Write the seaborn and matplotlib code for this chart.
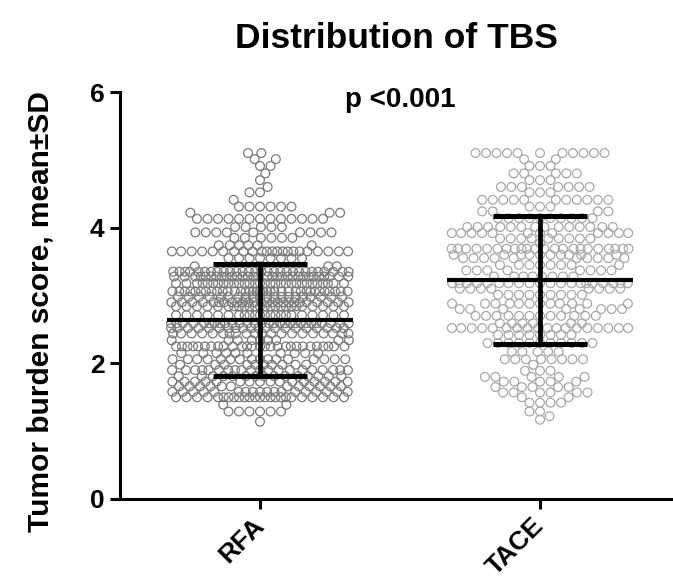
import numpy as np
import pandas as pd
import matplotlib
matplotlib.use('Agg')
import matplotlib.pyplot as plt
from matplotlib.transforms import ScaledTranslation
import seaborn as sns

# Groups and values (TBS level -> number of patients)
groups = ['RFA', 'TACE']
group_colors = ['#7a7a7a', '#a8a8a8']

rfa_levels = [5.10, 5.01, 4.91, 4.80, 4.70, 4.60, 4.52, 4.41, 4.31, 4.22,
              4.13, 4.01, 3.93, 3.85, 3.74, 3.65, 3.55, 3.43, 3.35, 3.28,
              3.18, 3.06, 2.98, 2.90, 2.84, 2.71, 2.59, 2.52, 2.44, 2.34,
              2.25, 2.15, 2.06, 1.98, 1.90, 1.81, 1.73, 1.66, 1.58, 1.50,
              1.39, 1.29, 1.14]
rfa_counts = [2, 2, 2, 1, 1, 1, 2, 1, 6, 3,
              13, 5, 9, 6, 6, 22, 8, 4, 28, 30,
              30, 35, 20, 25, 24, 22, 28, 20, 20, 9,
              27, 10, 16, 10, 20, 15, 16, 12, 18, 24,
              2, 6, 1]

tace_levels = [5.10, 5.01, 4.91, 4.80, 4.70, 4.60, 4.52, 4.41, 4.31, 4.24,
               4.14, 4.01, 3.92, 3.84, 3.77, 3.69, 3.60, 3.55, 3.45, 3.37,
               3.28, 3.18, 3.10, 3.01, 2.88, 2.80, 2.70, 2.59, 2.52, 2.42,
               2.30, 2.17, 2.06, 1.98, 1.89, 1.80, 1.73, 1.65, 1.57, 1.50,
               1.42, 1.29, 1.22, 1.17]
tace_counts = [11, 2, 3, 5, 3, 7, 3, 11, 3, 4,
               10, 14, 12, 9, 1, 22, 10, 10, 8, 8,
               8, 20, 8, 9, 12, 8, 12, 6, 18, 8,
               11, 5, 8, 1, 3, 5, 5, 5, 6, 2,
               4, 2, 1, 1]

# mean and SD as printed on the chart
group_means = [2.64, 3.23]
group_sds = [0.83, 0.94]

title = 'Distribution of TBS'
p_label = 'p <0.001'
y_label = 'Tumor burden score, mean\u00b1SD'
y_ticks = [0, 2, 4, 6]

# pixel scale of the axes (used only to lay out the swarm)
PX_PER_X = 280.0
PX_PER_Y = 67.83


# Prism-like beeswarm: push points sideways, squeeze them when a row is too wide
def swarm_offsets(values, d=10.5, half=89.0, vf=0.75):
    y = np.asarray(values, float) * PX_PER_Y / vf
    order = np.argsort(y, kind='stable')
    xs = np.zeros(len(y))
    done = np.zeros(len(y), bool)
    for k, i in enumerate(order):
        dist = d
        found = None
        while found is None and dist > 1.0:
            dy = y[done] - y[i]
            px = xs[done]
            near = np.abs(dy) < dist
            dyn, pxn = dy[near], px[near]
            if len(pxn) == 0:
                found = 0.0
                break
            dx = np.sqrt(dist ** 2 - dyn ** 2)
            sign = 1 if k % 2 else -1
            cands = np.concatenate([[0.0], pxn + sign * dx, pxn - sign * dx])
            cands = cands[np.abs(cands) <= half]
            cands = cands[np.argsort(np.abs(cands), kind='stable')]
            ok = (((cands[:, None] - pxn[None, :]) ** 2 + dyn[None, :] ** 2)
                  >= dist ** 2 - 1e-6).all(axis=1)
            if ok.any():
                found = cands[np.argmax(ok)]
            else:
                dist *= 0.88
        xs[i] = found if found is not None else 0.0
        done[i] = True
    return xs


frames = []
for gi, (g, levels, counts) in enumerate(zip(groups, [rfa_levels, tace_levels],
                                             [rfa_counts, tace_counts])):
    vals = np.repeat(levels, counts)
    offs = swarm_offsets(vals)
    frames.append(pd.DataFrame({'group': g, 'tbs': vals,
                                'x': gi + offs / PX_PER_X}))
df = pd.concat(frames, ignore_index=True)

sns.set_style('ticks')
plt.rcParams['font.family'] = ['Liberation Sans', 'DejaVu Sans']
plt.rcParams['font.weight'] = 'bold'
plt.rcParams['text.color'] = 'black'
plt.rcParams['axes.labelcolor'] = 'black'

fig = plt.figure(figsize=(6.73, 5.81), dpi=100)
ax = fig.add_axes([120 / 673, 82 / 581, 553 / 673, 407 / 581])

# Plot the points as open circles
for gi, g in enumerate(groups):
    sns.scatterplot(data=df[df['group'] == g], x='x', y='tbs', ax=ax,
                    marker='o', s=40, color=group_colors[gi],
                    facecolor='none', edgecolor=group_colors[gi],
                    linewidth=0.9, legend=False, zorder=2)
for coll in ax.collections:
    coll.set_facecolor('none')

# Mean line and SD whiskers
pos = np.arange(len(groups))
ax.hlines(group_means, pos - 93 / PX_PER_X, pos + 93 / PX_PER_X,
          colors='black', linewidth=3.0, zorder=3)
ax.errorbar(pos, group_means, yerr=group_sds, fmt='none', ecolor='black',
            elinewidth=3.4, capsize=34, capthick=3.6, zorder=3)

ax.set_xlim(-140 / PX_PER_X, 1 + 133 / PX_PER_X)
ax.set_ylim(0, 6)
ax.set_yticks(y_ticks)
ax.set_xticks(pos)
ax.set_xticklabels(groups, rotation=45, ha='right', rotation_mode='anchor')

ax.tick_params(axis='both', length=7, width=2.2, colors='black')
ax.tick_params(axis='x', pad=3, labelsize=19)
ax.tick_params(axis='y', pad=4, labelsize=19)
shift = ScaledTranslation(-8 / 100, 0, fig.dpi_scale_trans)
for lab in ax.get_xticklabels():
    lab.set_fontweight('bold')
    lab.set_transform(lab.get_transform() + shift)
for lab in ax.get_yticklabels():
    lab.set_fontweight('bold')

sns.despine(ax=ax)
for side in ['left', 'bottom']:
    ax.spines[side].set_linewidth(2.2)
    ax.spines[side].set_color('black')

ax.set_xlabel('')
ax.set_ylabel(y_label, fontsize=21.5, fontweight='bold')
ax.yaxis.set_label_coords(-0.118, 0.46)

ax.text(0.5, 5.88, p_label, ha='center', va='center', fontsize=20,
        fontweight='bold')
fig.text(396 / 673, 1 - 38 / 581, title, ha='center', va='center',
         fontsize=25.5, fontweight='bold')

fig.savefig('out.png', dpi=100)
